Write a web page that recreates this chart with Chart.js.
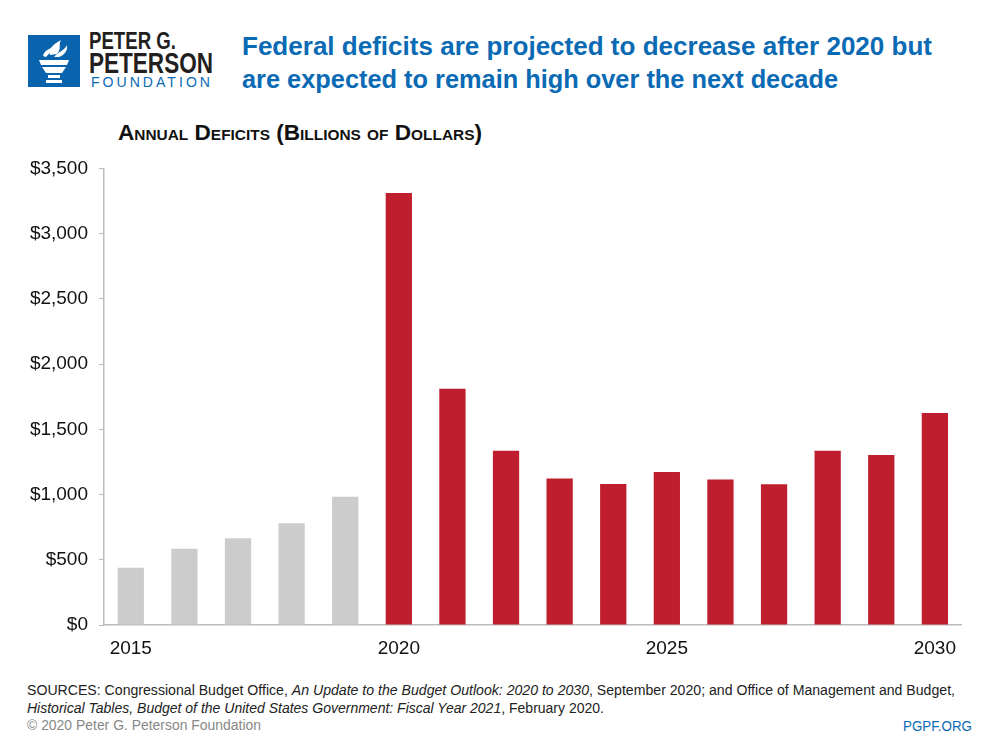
<!DOCTYPE html>
<html>
<head>
<meta charset="utf-8">
<title>Federal deficits</title>
<script src="https://cdn.jsdelivr.net/npm/chart.js@4.4.0/dist/chart.umd.min.js"></script>
<style>
  body { margin: 0; background: #fff; width: 1000px; height: 750px; position: relative; overflow: hidden; font-family: "Liberation Sans", Arial, sans-serif; }
  .fit { position: absolute; white-space: nowrap; line-height: 1; transform-origin: 0 0; }
  .logo { position: absolute; left: 28px; top: 35px; }
  .dark { color: #231f20; font-weight: bold; }
  .blue { color: #0a6ab4; }
  .title { font-weight: bold; font-size: 26px; }
  .subtitle { font-weight: bold; font-size: 22px; font-variant: small-caps; color: #111; }
  .src { font-size: 14px; color: #222; }
  .copy { font-size: 14px; color: #888; }
</style>
</head>
<body>
<svg class="logo" width="52" height="52" viewBox="0 0 52 52">
  <rect width="52" height="52" fill="#0a64ad"/>
  <path d="M22 20 C 20 12, 28 8, 33 5 C 30 10, 34 13, 29 19 Z" fill="#fff"/>
  <path d="M15 21 C 16 15, 24 12, 30 11 C 26 15, 22 17, 18 22 Z" fill="#fff"/>
  <path d="M26 22 C 30 17, 37 15, 39 10 C 40 16, 36 20, 31 22 Z" fill="#fff"/>
  <path d="M11 25 H41 L39 30 H13 Z" fill="#fff"/>
  <path d="M14 32 H38 L34 38 H18 Z" fill="#fff"/>
  <rect x="20" y="40" width="12" height="3" fill="#fff"/>
  <rect x="18" y="45" width="16" height="3" fill="#fff"/>
</svg>
<div class="fit dark" style="left:89px; top:30px; font-size:23px;" data-w="87">PETER G.</div>
<div class="fit dark" style="left:89px; top:49px; font-size:29px;" data-w="124">PETERSON</div>
<div class="fit blue" style="left:91px; top:75px; font-size:14px; letter-spacing:3px;" data-w="122">FOUNDATION</div>

<div class="fit blue title" style="left:242px; top:33px;" data-w="690">Federal deficits are projected to decrease after 2020 but</div>
<div class="fit blue title" style="left:242px; top:66px;" data-w="596">are expected to remain high over the next decade</div>

<div class="fit subtitle" style="left:118px; top:122px;" data-w="364">Annual Deficits (Billions of Dollars)</div>

<div style="position:absolute; left:0; top:146px; width:968px; height:524px;"><canvas id="chart"></canvas></div>

<div class="fit src" style="left:27px; top:683px;" data-w="928">SOURCES: Congressional Budget Office, <i>An Update to the Budget Outlook: 2020 to 2030</i>, September 2020; and Office of Management and Budget,</div>
<div class="fit src" style="left:27px; top:701px;" data-w="577"><i>Historical Tables, Budget of the United States Government: Fiscal Year 2021</i>, February 2020.</div>
<div class="fit copy" style="left:27px; top:718px;" data-w="234">© 2020 Peter G. Peterson Foundation</div>
<div class="fit blue" style="left:903px; top:718px; font-size:15px;" data-w="69">PGPF.ORG</div>

<script>
  const years = ['2015', '2016', '2017', '2018', '2019', '2020', '2021', '2022', '2023', '2024', '2025', '2026', '2027', '2028', '2029', '2030'];
  const deficits = [438, 585, 665, 779, 984, 3311, 1810, 1335, 1123, 1080, 1172, 1115, 1078, 1336, 1304, 1625];
  const firstProjected = '2020';
  const shownYears = ['2015', '2020', '2025', '2030'];

  // squeeze the text lines to the widths of the original condensed type
  document.querySelectorAll('.fit').forEach(el => {
    const w = Number(el.dataset.w);
    const actual = el.getBoundingClientRect().width;
    if (actual > 0) el.style.transform = 'scaleX(' + (w / actual) + ')';
  });

  const barColors = years.map(y => Number(y) < Number(firstProjected) ? '#cccccc' : '#be1e2d');

  const ctx = document.getElementById('chart').getContext('2d');
  new Chart(ctx, {
    type: 'bar',
    data: {
      labels: years,
      datasets: [{
        label: 'Annual deficit',
        data: deficits,
        backgroundColor: barColors,
        barPercentage: 0.49,
        categoryPercentage: 1
      }]
    },
    options: {
      responsive: true,
      maintainAspectRatio: false,
      animation: false,
      layout: { padding: { top: 14, right: 0, left: 0, bottom: 0 } },
      plugins: { legend: { display: false }, tooltip: { enabled: false } },
      scales: {
        x: {
          grid: { display: false, drawTicks: false },
          border: { color: '#bbbbbb', width: 1.5 },
          ticks: {
            autoSkip: false,
            maxRotation: 0,
            padding: 12,
            color: '#111',
            font: { family: '"Liberation Sans", Arial, sans-serif', size: 19 },
            callback: function (value) {
              const lab = this.getLabelForValue(value);
              return shownYears.includes(lab) ? lab : '';
            }
          },
          afterFit: s => { s.height = 45; }
        },
        y: {
          min: 0,
          max: 3500,
          grid: { display: true, drawOnChartArea: false, drawTicks: true, tickLength: 5, color: '#bbbbbb' },
          border: { color: '#bbbbbb', width: 1.5 },
          ticks: {
            stepSize: 500,
            padding: 11,
            color: '#111',
            font: { family: '"Liberation Sans", Arial, sans-serif', size: 19 },
            callback: v => '$' + v.toLocaleString('en-US')
          },
          afterFit: s => { s.width = 104; }
        }
      }
    }
  });
</script>
</body>
</html>
